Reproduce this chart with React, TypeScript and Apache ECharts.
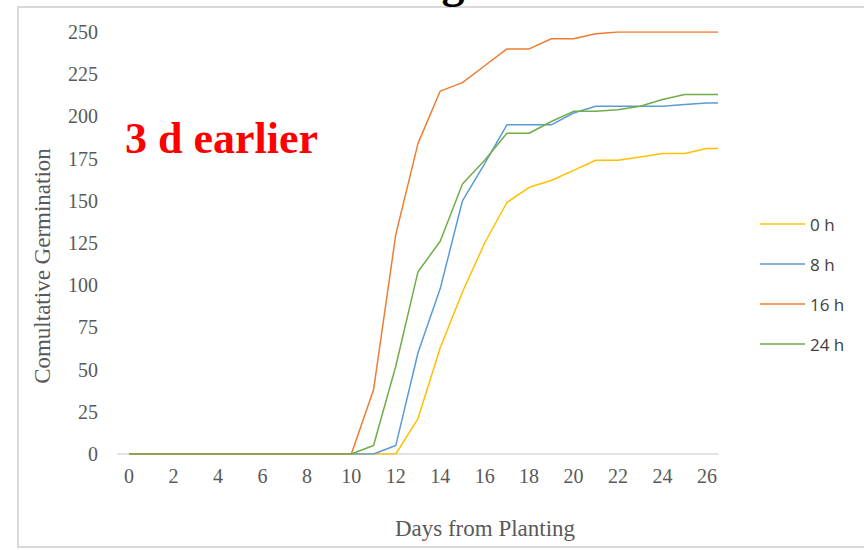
import React, { useEffect, useRef } from "react";
import * as echarts from "echarts";

const days = [0, 1, 2, 3, 4, 5, 6, 7, 8, 9, 10, 11, 12, 13, 14, 15, 16, 17, 18, 19, 20, 21, 22, 23, 24, 25, 26, 26.5];
const xLabelDays = [0, 2, 4, 6, 8, 10, 12, 14, 16, 18, 20, 22, 24, 26];

const seriesNames = ["0 h", "8 h", "16 h", "24 h"];
const seriesColors = ["#FFC000", "#5B9BD5", "#ED7D31", "#70AD47"];

const h0 = [0, 0, 0, 0, 0, 0, 0, 0, 0, 0, 0, 0, 0, 21, 63, 96, 125, 149, 158, 162, 168, 174, 174, 176, 178, 178, 181, 181];
const h8 = [0, 0, 0, 0, 0, 0, 0, 0, 0, 0, 0, 0, 5, 60, 98, 150, 172, 195, 195, 195, 202, 206, 206, 206, 206, 207, 208, 208];
const h16 = [0, 0, 0, 0, 0, 0, 0, 0, 0, 0, 0, 38, 130, 184, 215, 220, 230, 240, 240, 246, 246, 249, 250, 250, 250, 250, 250, 250];
const h24 = [0, 0, 0, 0, 0, 0, 0, 0, 0, 0, 0, 5, 52, 108, 126, 160, 174, 190, 190, 197, 203, 203, 204, 206, 210, 213, 213, 213];
const seriesValues = [h0, h8, h16, h24];

const yMin = 0;
const yMax = 250;
const yInterval = 25;

const xTitle = "Days from Planting";
const yTitle = "Comultative Germination";
const annotation = "3 d earlier";
const titleFragment = "g";

export default function App() {
  const ref = useRef<HTMLDivElement>(null);

  useEffect(() => {
    document.body.style.margin = "0";
    if (!ref.current) return;
    const chart = echarts.init(ref.current, null, { renderer: "svg" });
    const serif = "'Liberation Serif', 'Times New Roman', serif";
    chart.setOption({
      animation: false,
      backgroundColor: "#ffffff",
      grid: { left: 118, right: 146, top: 32, bottom: 96, containLabel: false },
      legend: {
        orient: "vertical",
        left: 755,
        top: 209,
        icon: "rect",
        itemWidth: 45,
        itemHeight: 1.5,
        itemGap: 20,
        data: seriesNames,
        textStyle: { fontFamily: "'Open Sans', sans-serif", fontSize: 17, color: "#404040", lineHeight: 20 },
      },
      xAxis: {
        type: "value",
        min: -0.5,
        max: 26.5,
        axisLine: { show: true, lineStyle: { color: "#d9d9d9", width: 1.5 } },
        axisTick: { show: false },
        splitLine: { show: false },
        axisLabel: {
          customValues: xLabelDays,
          fontFamily: serif,
          fontSize: 20,
          color: "#595959",
          margin: 12,
        },
      },
      yAxis: {
        type: "value",
        min: yMin,
        max: yMax,
        interval: yInterval,
        axisLine: { show: false },
        axisTick: { show: false },
        splitLine: { show: false },
        axisLabel: { fontFamily: serif, fontSize: 20, color: "#595959", margin: 20 },
      },
      series: seriesNames.map((name, i) => ({
        name,
        type: "line",
        symbol: "none",
        data: days.map((d, j) => [d, seriesValues[i][j]]),
        lineStyle: { color: seriesColors[i], width: 1.5 },
        itemStyle: { color: seriesColors[i] },
      })),
      graphic: [
        {
          type: "polyline",
          silent: true,
          shape: { points: [[864, 7], [18, 7], [18, 547], [864, 547]] },
          style: { stroke: "#d9d9d9", lineWidth: 2, fill: "none" },
        },
        {
          type: "text",
          x: 453,
          y: -19,
          style: {
            text: titleFragment,
            fontFamily: serif,
            fontWeight: "bold",
            fontSize: 46,
            fill: "#000000",
            align: "center",
            verticalAlign: "middle",
          },
        },
        {
          type: "text",
          x: 125,
          y: 138,
          style: {
            text: annotation,
            fontFamily: serif,
            fontWeight: "bold",
            fontSize: 44,
            fill: "#FF0000",
            align: "left",
            verticalAlign: "middle",
          },
        },
        {
          type: "text",
          x: 42,
          y: 266,
          rotation: Math.PI / 2,
          style: {
            text: yTitle,
            fontFamily: serif,
            fontSize: 23,
            fill: "#595959",
            align: "center",
            verticalAlign: "middle",
          },
        },
        {
          type: "text",
          x: 485,
          y: 528,
          style: {
            text: xTitle,
            fontFamily: serif,
            fontSize: 23,
            fill: "#595959",
            align: "center",
            verticalAlign: "middle",
          },
        },
      ],
    });
    return () => chart.dispose();
  }, []);

  return <div ref={ref} style={{ position: "absolute", left: 0, top: 0, width: 864, height: 550 }} />;
}
